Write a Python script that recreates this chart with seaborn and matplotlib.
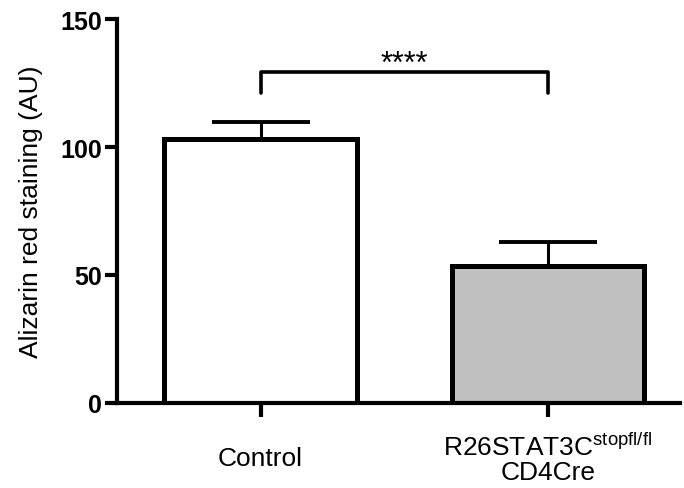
import numpy as np
import pandas as pd
import matplotlib
matplotlib.use("Agg")
import matplotlib.pyplot as plt
import seaborn as sns

# 数据
groups = ["Control", "R26STAT3C"]
means = [103.2, 53.5]
sems = [6.6, 9.2]
bar_colors = ["#ffffff", "#c0c0c0"]
tick_labels = ["Control", "R26STAT3C$^{\\mathrm{stopfl/fl}}$\nCD4Cre"]
sig_text = "****"
sig_y = 129.5
sig_drop = 8.5

sns.set_style("ticks")
plt.rcParams["font.family"] = ["Liberation Sans", "DejaVu Sans"]
plt.rcParams["mathtext.fontset"] = "custom"
plt.rcParams["mathtext.rm"] = "Liberation Sans"
for k in ["text.color", "axes.labelcolor", "xtick.color", "ytick.color", "axes.edgecolor"]:
    plt.rcParams[k] = "black"

df = pd.DataFrame({"group": groups, "value": means})

fig = plt.figure(figsize=(6.84, 4.89), dpi=100)
ax = fig.add_axes([0.171, 0.174, 0.823, 0.785])

sns.barplot(data=df, x="group", y="value", hue="group", palette=bar_colors,
            edgecolor="black", linewidth=3.6, width=0.67, errorbar=None,
            legend=False, ax=ax)

# 只画向上的误差线
x = np.arange(len(groups))
ax.errorbar(x, means, yerr=[np.zeros(len(sems)), sems], fmt="none",
            ecolor="black", elinewidth=2.2, capsize=35, capthick=2.8, zorder=1)

# 显著性标记
ax.plot([0, 0, 1, 1], [sig_y - sig_drop, sig_y, sig_y, sig_y - sig_drop],
        color="black", lw=2.6, solid_capstyle="round")
ax.text(0.5, sig_y - 3, sig_text, ha="center", va="bottom", fontsize=22)

ax.set_ylim(0, 150)
ax.set_xlim(-0.5, 1.46)
ax.set_yticks([0, 50, 100, 150])
ax.set_yticklabels(["0", "50", "100", "150"], fontsize=18, fontweight="bold")
ax.set_xticks(x)
ax.set_xticklabels(tick_labels, fontsize=19, va="center", linespacing=1.0)
ax.tick_params(axis="y", length=9, width=3, pad=2)
ax.tick_params(axis="x", length=10, width=3, pad=30)
ax.set_xlabel("")
ax.set_ylabel("Alizarin red staining (AU)", fontsize=19, labelpad=12)

sns.despine(ax=ax)
for s in ["left", "bottom"]:
    ax.spines[s].set_linewidth(3)

fig.savefig("out.png", dpi=100)
